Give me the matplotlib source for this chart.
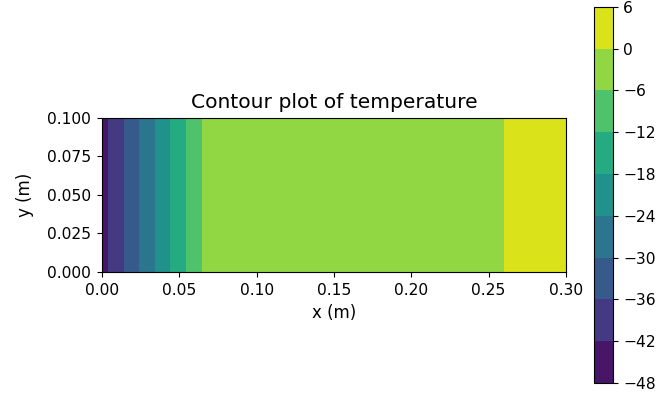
import matplotlib
matplotlib.use("Agg")
import matplotlib.pyplot as plt
import numpy as np

# temperature profile along x (constant in y)
x_nodes = [0.0, 0.01, 0.02, 0.03, 0.04, 0.05, 0.065, 0.10, 0.15, 0.20, 0.25, 0.30]
t_nodes = [-44.3, -38.4, -32.4, -26.5, -20.5, -14.6, -5.7, -4.7, -3.2, -1.8, -0.3, 1.2]
y_nodes = [0.0, 0.025, 0.05, 0.075, 0.1]
levels = [-48, -42, -36, -30, -24, -18, -12, -6, 0, 6]

plt.rcParams["font.size"] = 12
plt.rcParams["xtick.labelsize"] = 11.2
plt.rcParams["ytick.labelsize"] = 11.2

X, Y = np.meshgrid(x_nodes, y_nodes)
T = np.tile(t_nodes, (len(y_nodes), 1))

fig = plt.figure(figsize=(6.58, 3.97), dpi=100)
ax = fig.add_axes([0.155, 0.315, 0.705, 0.388])
cax = fig.add_axes([0.903, 0.035, 0.029, 0.948])

cs = ax.contourf(X, Y, T, levels=levels, cmap="viridis")
ax.set_xlim(0, 0.3)
ax.set_ylim(0, 0.1)
ax.set_xticks([0.0, 0.05, 0.10, 0.15, 0.20, 0.25, 0.30])
ax.set_xticklabels(["0.00", "0.05", "0.10", "0.15", "0.20", "0.25", "0.30"])
ax.set_yticks([0.0, 0.025, 0.05, 0.075, 0.1])
ax.set_yticklabels(["0.000", "0.025", "0.050", "0.075", "0.100"])
ax.tick_params(pad=4.5)
ax.set_xlabel("x (m)", labelpad=4)
ax.set_ylabel("y (m)", labelpad=9)
ax.set_title("Contour plot of temperature", fontsize=14.6, pad=7)

cb = fig.colorbar(cs, cax=cax)
cb.set_ticks(levels)

fig.savefig("out.png", dpi=100)
